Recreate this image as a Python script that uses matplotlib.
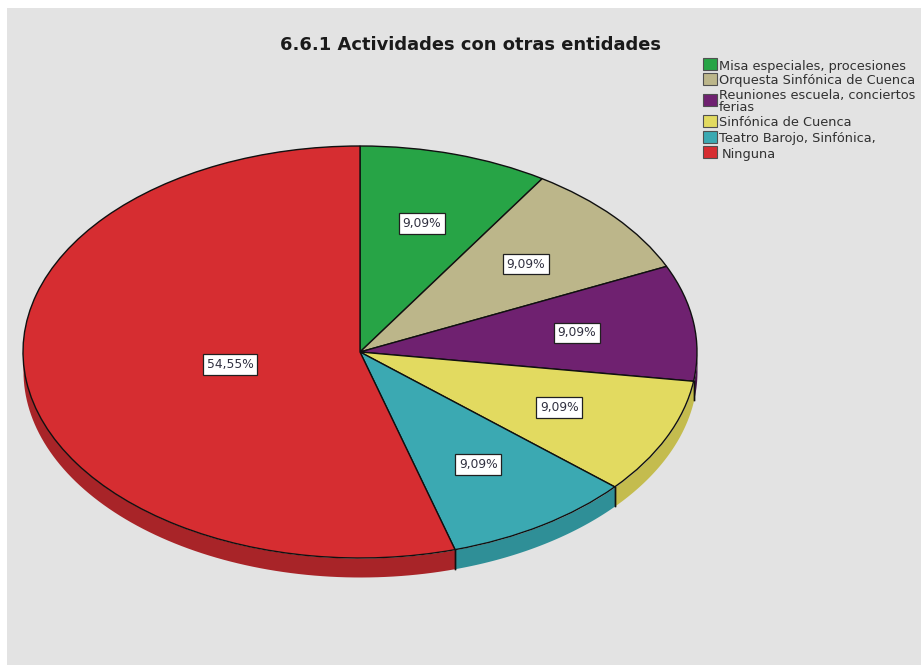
import numpy as np
import matplotlib
matplotlib.use("Agg")
import matplotlib.pyplot as plt
from matplotlib.patches import Rectangle

# datos del grafico
categorias = ["Misa especiales, procesiones", "Orquesta Sinfónica de Cuenca",
              "Reuniones escuela, conciertos\nferias", "Sinfónica de Cuenca",
              "Teatro Barojo, Sinfónica,", "Ninguna"]
valores = [9.09, 9.09, 9.09, 9.09, 9.09, 54.55]
colores = ["#27a446", "#bcb68a", "#6f2170", "#e2da60", "#3ba9b2", "#d62d31"]
colores_lado = ["#1d7c35", "#8f8a68", "#4a164b", "#c4bc4e", "#2f8f97", "#a82428"]
titulo = "6.6.1 Actividades con otras entidades"

W, H = 921, 665
CX, CY, RX, RY = 360, 352, 337, 206
PROF = 19 / RY

plt.rcParams["font.family"] = ["DejaVu Sans"]

fig = plt.figure(figsize=(W / 100, H / 100), dpi=100, facecolor="white")

# fondo gris con margen blanco arriba y a la izquierda
fig.patches.append(Rectangle((7 / W, 0), 1, 1 - 8 / H, transform=fig.transFigure,
                             facecolor="#e3e3e3", edgecolor="none", zorder=-1))

ax = fig.add_axes([0, 0, 1, 1])
wedges, _, autotexts = ax.pie(valores, colors=colores, startangle=90, counterclock=False,
                              autopct=lambda p: f"{p:.2f}%".replace(".", ","),
                              pctdistance=0.65,
                              wedgeprops=dict(edgecolor="#101010", linewidth=1.0))
ax.set_aspect("auto")
ax.set_xlim(-CX / RX, (W - CX) / RX)
ax.set_ylim((CY - H) / RY, CY / RY)
ax.patch.set_visible(False)

# canto del pastel, solo la parte de delante
for w, c in zip(wedges, colores_lado):
    a1, a2 = w.theta1 % 360, w.theta2 % 360
    if a2 <= a1:
        a2 += 360
    for ini, fin in [(a1, a2), (a1 - 360, a2 - 360)]:
        lo, hi = max(ini, 180), min(fin, 360)
        if hi <= lo:
            continue
        t = np.radians(np.linspace(lo, hi, 80))
        x = np.cos(t)
        y = np.sin(t)
        ax.fill_between(x, y, y - PROF, color=c, linewidth=0, zorder=0.5)
        # aristas negras solo donde acaba un sector, no en el borde del pastel
        for k in (0, -1):
            if 181 < np.degrees(t[k]) < 359:
                ax.plot([x[k], x[k]], [y[k], y[k] - PROF], color="#101010", lw=1.0, zorder=0.6)

# etiquetas con recuadro
for w, txt in zip(wedges, autotexts):
    txt.set_fontsize(8.8)
    txt.set_color("#303040")
    txt.set_bbox(dict(facecolor="white", edgecolor="#202020", linewidth=0.9, pad=2.6))
mid = np.radians((wedges[-1].theta1 + wedges[-1].theta2) / 2)
autotexts[-1].set_position((0.39 * np.cos(mid), 0.43 * np.sin(mid)))

fig.text(470 / W, 1 - 45 / H, titulo, ha="center", va="center", fontsize=12.9,
         fontweight="bold", color="#1a1a1a")

# leyenda a mano para colocarla como en el original
ley_y = [64, 79, 99.5, 121, 137, 152]
txt_y = [[70], [84], [99, 111], [126], [142], [158]]
txt_x = [719, 719, 719, 719, 719, 722]
for cat, col, yc, ty, tx in zip(categorias, colores, ley_y, txt_y, txt_x):
    fig.patches.append(Rectangle((703 / W, 1 - (yc + 6) / H), 14 / W, 12 / H,
                                 transform=fig.transFigure, facecolor=col,
                                 edgecolor="#505050", linewidth=0.8))
    for linea, yy in zip(cat.split("\n"), ty):
        fig.text(tx / W, 1 - yy / H, linea, va="baseline", fontsize=9.3, color="#303030")

fig.savefig("out.png", dpi=100, facecolor="white")
